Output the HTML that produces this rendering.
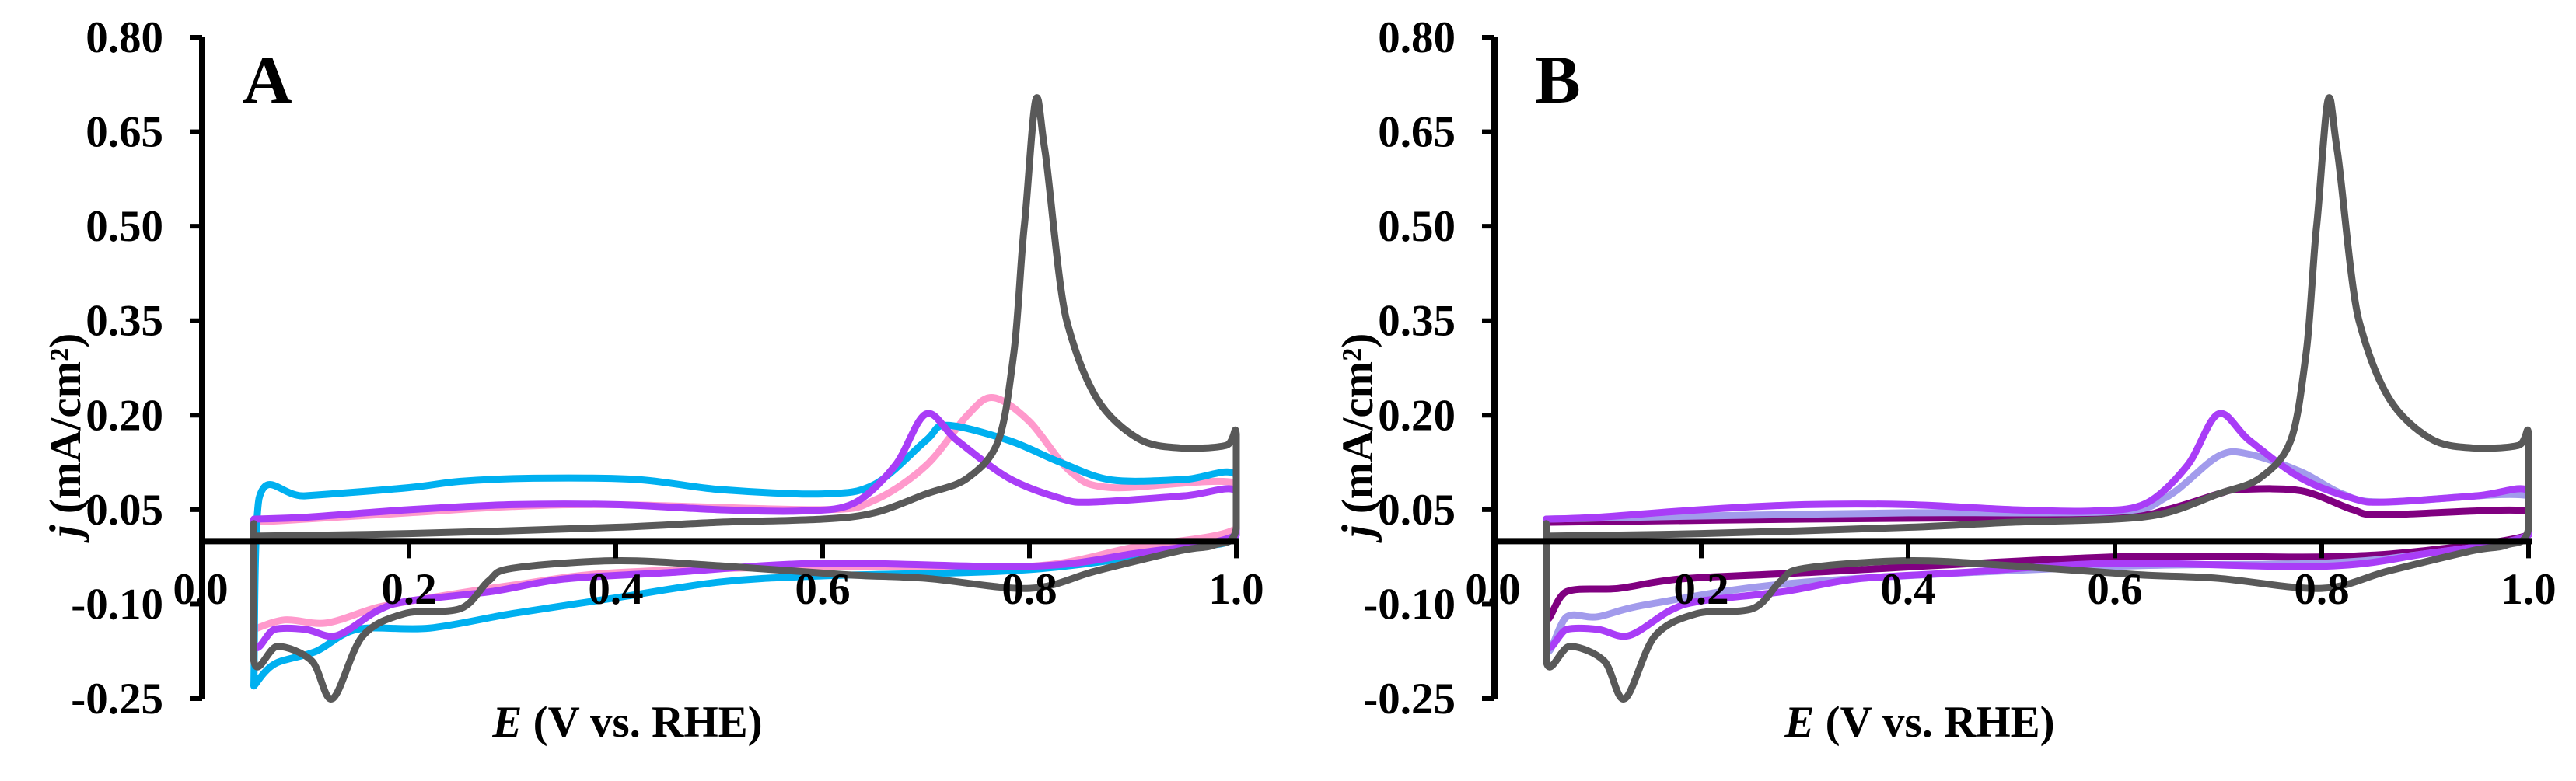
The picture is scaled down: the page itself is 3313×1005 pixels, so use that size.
<!DOCTYPE html>
<html><head><meta charset="utf-8"><style>
html,body{margin:0;padding:0;background:#fff}
svg{display:block}
text{font-family:"Liberation Serif",serif;font-weight:bold;fill:#000}
</style></head><body>
<svg id="chart" width="3313" height="1005" viewBox="0 0 3313 1005" xmlns="http://www.w3.org/2000/svg"></svg>
<script>
const xTicks=[0.0,0.2,0.4,0.6,0.8,1.0];
const xTickLabels=["0.0","0.2","0.4","0.6","0.8","1.0"];
const yTicks=[0.80,0.65,0.50,0.35,0.20,0.05,-0.10,-0.25];
const yTickLabels=["0.80","0.65","0.50","0.35","0.20","0.05","-0.10","-0.25"];
const grayE=[0.05,0.2,0.4,0.5,0.6,0.65,0.7,0.74,0.77,0.785,0.795,0.806,0.815,0.836,0.865,0.905,0.946,0.99,1.0,1.0,0.979,0.946,0.865,0.8,0.7,0.62,0.5,0.4,0.3,0.277,0.25,0.196,0.155,0.126,0.106,0.073,0.05,0.05];
const grayJ=[0.008,0.012,0.022,0.03,0.035,0.045,0.075,0.1,0.16,0.3,0.5,0.70,0.62,0.35,0.227,0.163,0.148,0.152,0.17,0.02,-0.006,-0.015,-0.047,-0.075,-0.059,-0.053,-0.039,-0.031,-0.043,-0.063,-0.107,-0.115,-0.151,-0.25,-0.19,-0.167,-0.19,0.028];
const cyanE=[0.05,0.055,0.1,0.2,0.25,0.32,0.42,0.5,0.6,0.65,0.7,0.72,0.78,0.83,0.88,0.95,1.0,1.0,0.95,0.8,0.6,0.5,0.4,0.3,0.22,0.15,0.11,0.07,0.05];
const cyanJ=[-0.23,0.068,0.072,0.085,0.095,0.1,0.098,0.082,0.075,0.09,0.16,0.184,0.16,0.125,0.097,0.098,0.105,0.01,-0.012,-0.045,-0.055,-0.065,-0.09,-0.115,-0.138,-0.14,-0.175,-0.195,-0.23];
const purpleE=[0.05,0.1,0.2,0.3,0.4,0.5,0.58,0.63,0.67,0.70,0.73,0.78,0.83,0.86,0.95,1.0,1.0,0.9,0.8,0.6,0.45,0.35,0.28,0.2,0.17,0.13,0.1,0.07,0.05,0.05];
const purpleJ=[0.035,0.038,0.05,0.058,0.058,0.05,0.048,0.06,0.12,0.202,0.16,0.1,0.068,0.062,0.072,0.08,0.01,-0.02,-0.04,-0.035,-0.05,-0.06,-0.08,-0.095,-0.11,-0.15,-0.14,-0.14,-0.16,0.035];
const pinkE=[0.05,0.2,0.3,0.4,0.6,0.65,0.7,0.74,0.765,0.8,0.84,0.88,1.0,1.0,0.9,0.8,0.6,0.4,0.3,0.22,0.17,0.12,0.08,0.05];
const pinkJ=[0.03,0.045,0.055,0.058,0.05,0.065,0.12,0.2,0.228,0.19,0.11,0.085,0.092,0.02,-0.01,-0.04,-0.04,-0.05,-0.07,-0.09,-0.105,-0.13,-0.125,-0.14];
const lavE=[0.05,0.2,0.4,0.6,0.65,0.7,0.73,0.78,0.82,0.86,1.0,1.0,0.9,0.8,0.6,0.3,0.15,0.1,0.07,0.05,0.05];
const lavJ=[0.035,0.04,0.045,0.047,0.07,0.135,0.138,0.11,0.075,0.062,0.072,0.01,-0.02,-0.035,-0.04,-0.065,-0.1,-0.12,-0.12,-0.17,0.035];
const dpE=[0.05,0.3,0.6,0.65,0.7,0.72,0.78,0.83,0.86,1.0,1.0,0.9,0.8,0.6,0.3,0.18,0.12,0.07,0.05,0.05];
const dpJ=[0.03,0.035,0.04,0.05,0.075,0.082,0.08,0.05,0.042,0.048,0.01,-0.015,-0.025,-0.025,-0.05,-0.06,-0.075,-0.08,-0.12,0.03];

const NS="http://www.w3.org/2000/svg";
const svg=document.getElementById('chart');
function mk(tag,attrs,parent){const e=document.createElementNS(NS,tag);for(const k in attrs)e.setAttribute(k,attrs[k]);(parent||svg).appendChild(e);return e;}
function clamp(v,a,b){const lo=Math.min(a,b),hi=Math.max(a,b);return Math.max(lo,Math.min(hi,v));}
function panel(ox,letter,series){
  const x0=ox, xs=1330, yTop=48, yBot=899, jMax=0.8, jMin=-0.25;
  const X=e=>x0+e*xs;
  const Y=j=>yTop+(jMax-j)/(jMax-jMin)*(yBot-yTop);
  const g=mk('g',{});
  
  
  series.forEach(s=>{
    const pts=s.E.map((e,i)=>[X(e),Y(s.J[i])]);
    let d='M'+pts[0][0]+','+pts[0][1];
    for(let i=0;i<pts.length-1;i++){
      const p0=pts[Math.max(0,i-1)],p1=pts[i],p2=pts[i+1],p3=pts[Math.min(pts.length-1,i+2)];
      const t=0.16;
      const c1x=clamp(p1[0]+(p2[0]-p0[0])*t,p1[0],p2[0]);
      const c2x=clamp(p2[0]-(p3[0]-p1[0])*t,p1[0],p2[0]);
      const c1y=clamp(p1[1]+(p2[1]-p0[1])*t,p1[1]-40,p1[1]+40);
      const c2y=clamp(p2[1]-(p3[1]-p1[1])*t,p2[1]-40,p2[1]+40);
      d+=' C'+c1x+','+c1y+' '+c2x+','+c2y+' '+p2[0]+','+p2[1];
    }
    const p=mk('path',{d:d,fill:'none',stroke:s.c,'stroke-width':9,'stroke-linejoin':'round','stroke-linecap':'round'},g);
    
    
  });
  const ya=mk('line',{x1:x0,y1:yTop,x2:x0,y2:yBot,stroke:'#000','stroke-width':8},g);
  
  
  const xa=mk('line',{x1:x0,y1:Y(0),x2:X(1)+4,y2:Y(0),stroke:'#000','stroke-width':8},g);
  
  
  yTicks.forEach((v,i)=>{
    mk('line',{x1:x0-16,y1:Y(v),x2:x0,y2:Y(v),stroke:'#000','stroke-width':6},g);
    const t=mk('text',{x:x0-50,y:Y(v)+19,'text-anchor':'end','font-size':57},g);
    t.textContent=yTickLabels[i];
    
    
  });
  xTicks.forEach((v,i)=>{
    if(v>0) mk('line',{x1:X(v),y1:Y(0),x2:X(v),y2:Y(0)+22,stroke:'#000','stroke-width':6},g);
    const t=mk('text',{x:X(v)+(v===0?-2:0),y:777,'text-anchor':'middle','font-size':57},g);
    t.textContent=xTickLabels[i];
    
    
  });
  const xt=mk('text',{x:x0+547,y:948,'text-anchor':'middle','font-size':57},g);
  xt.innerHTML='<tspan font-style="italic">E</tspan> (V vs. RHE)';
  
  
  const yt=mk('text',{x:0,y:0,'text-anchor':'middle','font-size':57,transform:'translate('+(x0-157)+',560) rotate(-90)'},g);
  yt.innerHTML='<tspan font-style="italic">j</tspan> (mA/cm²)';
  
  
  const lt=mk('text',{x:x0+52,y:132,'font-size':88},g);
  lt.textContent=letter;
  
  
}
const gray={n:'gray',E:grayE,J:grayJ,c:'#595959'};
const purple={n:'purple',E:purpleE,J:purpleJ,c:'#a93df7'};
panel(260,'A',[{n:'pink',E:pinkE,J:pinkJ,c:'#ff99cc'},{n:'cyan',E:cyanE,J:cyanJ,c:'#00b0f0'},purple,gray]);
panel(1922,'B',[{n:'dark-purple',E:dpE,J:dpJ,c:'#800080'},{n:'lavender',E:lavE,J:lavJ,c:'#a29bec'},purple,gray]);
</script>
</body></html>
